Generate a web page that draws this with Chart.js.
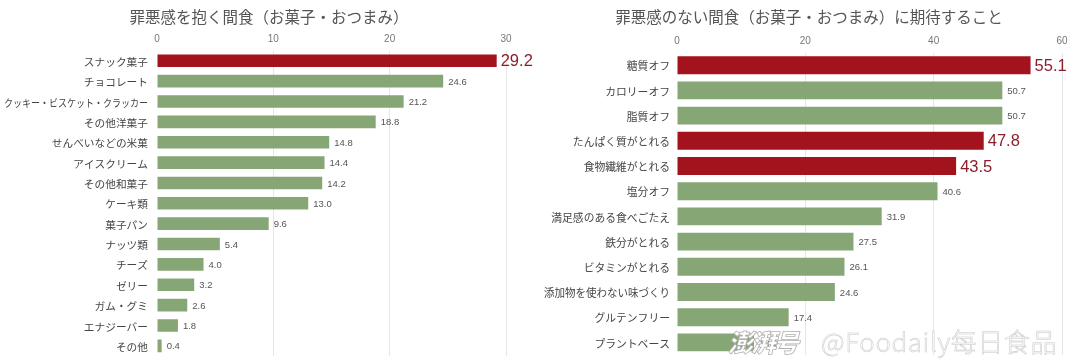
<!DOCTYPE html>
<html>
<head>
<meta charset="utf-8">
<script src="https://cdn.jsdelivr.net/npm/chart.js@4.4.1/dist/chart.umd.min.js"></script>
<style>
  html, body { margin: 0; padding: 0; background: #ffffff; }
  body { width: 1080px; height: 360px; position: relative; overflow: hidden; font-family: "Noto Sans CJK JP", "Noto Sans", sans-serif; }
  .box { position: absolute; top: 0; width: 540px; height: 360px; }
  #wm1 { position: absolute; left: 728px; top: 326px; font-family: "Noto Sans CJK SC"; font-weight: 900; font-style: italic; font-size: 25px; line-height: 30px; color: #ffffff; -webkit-text-stroke: 0.8px #b0b0b0; letter-spacing: -2px; }
  #wm2 { position: absolute; left: 821px; top: 326px; font-family: "Noto Sans CJK SC"; font-weight: 200; font-size: 26px; line-height: 30px; color: #ffffff; -webkit-text-stroke: 0.5px #c6c6c6; letter-spacing: 0.6px; }
</style>
</head>
<body>
<div class="box" style="left:0"><canvas id="c1" width="540" height="360"></canvas></div>
<div class="box" style="left:540px"><canvas id="c2" width="540" height="360"></canvas></div>
<div id="wm1">澎湃号</div>
<div id="wm2">@Foodaily每日食品</div>
<script>
// ---------- data ----------
const leftTitle = "罪悪感を抱く間食（お菓子・おつまみ）";
const leftCategories = ["スナック菓子","チョコレート","クッキー・ビスケット・クラッカー","その他洋菓子","せんべいなどの米菓","アイスクリーム","その他和菓子","ケーキ類","菓子パン","ナッツ類","チーズ","ゼリー","ガム・グミ","エナジーバー","その他"];
const leftValues = [29.2, 24.6, 21.2, 18.8, 14.8, 14.4, 14.2, 13.0, 9.6, 5.4, 4.0, 3.2, 2.6, 1.8, 0.4];
const leftHighlighted = ["スナック菓子"];
const leftTicks = [0, 10, 20, 30];

const rightTitle = "罪悪感のない間食（お菓子・おつまみ）に期待すること";
const rightCategories = ["糖質オフ","カロリーオフ","脂質オフ","たんぱく質がとれる","食物繊維がとれる","塩分オフ","満足感のある食べごたえ","鉄分がとれる","ビタミンがとれる","添加物を使わない味づくり","グルテンフリー","プラントベース"];
const rightValues = [55.1, 50.7, 50.7, 47.8, 43.5, 40.6, 31.9, 27.5, 26.1, 24.6, 17.4, 12.0];
const rightHighlighted = ["糖質オフ","たんぱく質がとれる","食物繊維がとれる"];
const rightTicks = [0, 20, 40, 60];

// ---------- styles ----------
const RED = "#a3131d";
const GREEN = "#87a676";
const LABEL_RED = "#8a1f2c";

const chartTitle = {
  id: "chartTitle",
  afterDraw(chart, args, opts) {
    const ctx = chart.ctx;
    ctx.save();
    ctx.font = opts.font;
    ctx.fillStyle = "#555555";
    ctx.textAlign = "center";
    ctx.textBaseline = "middle";
    ctx.fillText(opts.text, opts.x, opts.y);
    ctx.restore();
  }
};

const valueLabels = {
  id: "valueLabels",
  afterDatasetsDraw(chart, args, opts) {
    const ctx = chart.ctx;
    const meta = chart.getDatasetMeta(0);
    const ds = chart.data.datasets[0];
    ctx.save();
    ctx.textBaseline = "middle";
    ctx.textAlign = "left";
    meta.data.forEach((bar, i) => {
      const hi = opts.highlighted.includes(chart.data.labels[i]);
      const v = ds.data[i];
      if (hi) {
        ctx.font = opts.bigFont;
        ctx.fillStyle = LABEL_RED;
        ctx.fillText(v.toFixed(1), bar.x + 4, bar.y + 1);
      } else {
        ctx.font = opts.smallFont;
        ctx.fillStyle = "#555555";
        ctx.fillText(v.toFixed(1), bar.x + 5, bar.y + 1);
      }
    });
    ctx.restore();
  }
};

const catLabels = {
  id: "catLabels",
  afterDraw(chart, args, opts) {
    const ctx = chart.ctx;
    const ys = chart.scales.y;
    const left = chart.chartArea.left;
    ctx.save();
    ctx.font = opts.font;
    ctx.fillStyle = "#444444";
    ctx.textAlign = "right";
    ctx.textBaseline = "middle";
    chart.data.labels.forEach((lab, i) => {
      const y = ys.getPixelForValue(i);
      const x = left - opts.gap;
      ctx.fillText(lab, x, y + 1, x - 4);
    });
    ctx.restore();
  }
};

function makeChart(id, cfg) {
  const colors = cfg.categories.map(c => cfg.highlighted.includes(c) ? RED : GREEN);
  return new Chart(document.getElementById(id), {
    type: "bar",
    data: {
      labels: cfg.categories,
      datasets: [{
        data: cfg.values,
        backgroundColor: colors,
        borderWidth: 0,
        barPercentage: cfg.barPct,
        categoryPercentage: 1.0
      }]
    },
    options: {
      indexAxis: "y",
      responsive: false,
      animation: false,
      events: [],
      layout: { padding: { left: 0, right: cfg.padRight, top: 30.6, bottom: cfg.padBottom } },
      plugins: {
        legend: { display: false },
        tooltip: { enabled: false },
        title: { display: false },
        chartTitle: { text: cfg.title, x: 269, y: 17, font: "15.5px 'Noto Sans CJK JP'" },
        valueLabels: { highlighted: cfg.highlighted, bigFont: "16.5px 'Liberation Sans', 'Noto Sans'", smallFont: "9.5px 'Liberation Sans', 'Noto Sans'" },
        catLabels: { font: cfg.catFont, gap: cfg.catGap }
      },
      scales: {
        x: {
          position: "top",
          min: cfg.ticks[0],
          max: cfg.ticks[cfg.ticks.length - 1],
          afterBuildTicks(scale) { scale.ticks = cfg.ticks.map(v => ({ value: v })); },
          afterFit(scale) { scale.height = cfg.xHeight; },
          ticks: {
            color: "#777777",
            font: { family: "'Liberation Sans'", size: 10 },
            padding: 5,
            maxRotation: 0
          },
          grid: {
            drawTicks: false,
            color: ctx => (ctx.tick && ctx.tick.value === 0) ? "rgba(0,0,0,0)" : "#e6e6e6",
            lineWidth: 1
          },
          border: { display: false }
        },
        y: {
          afterFit(scale) { scale.width = cfg.yWidth; },
          ticks: { display: false },
          grid: { display: false },
          border: { display: false }
        }
      }
    },
    plugins: [chartTitle, valueLabels, catLabels]
  });
}

makeChart("c1", {
  title: leftTitle, categories: leftCategories, values: leftValues, highlighted: leftHighlighted, ticks: leftTicks,
  barPct: 0.62, padRight: 34, padBottom: 4, xHeight: 20, yWidth: 157,
  catFont: "10.7px 'Noto Sans CJK JP'", catGap: 9
});
makeChart("c2", {
  title: rightTitle, categories: rightCategories, values: rightValues, highlighted: rightHighlighted, ticks: rightTicks,
  barPct: 0.71, padRight: 18, padBottom: 5, xHeight: 22, yWidth: 137,
  catFont: "10.8px 'Noto Sans CJK JP'", catGap: 7
});
</script>
</body>
</html>
